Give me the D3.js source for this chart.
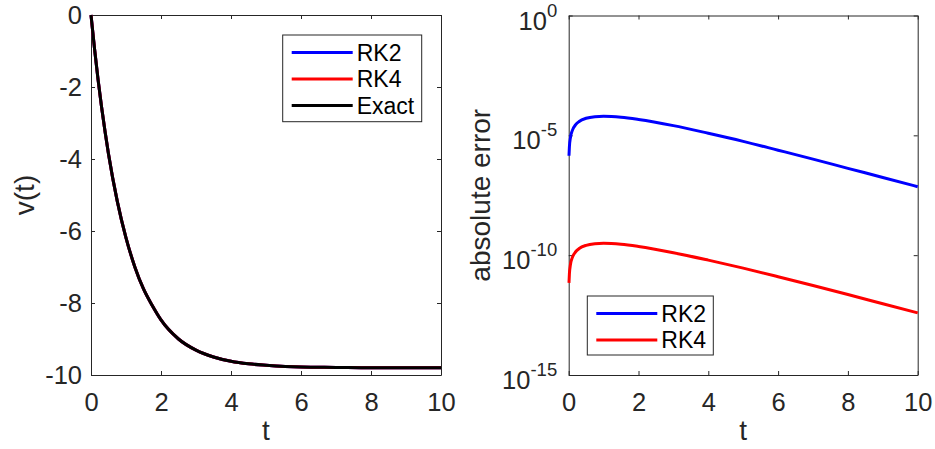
<!DOCTYPE html>
<html lang="en">
<head>
<meta charset="UTF-8">
<script src="https://d3js.org/d3.v7.min.js"></script>
<title>RK2 / RK4 vs exact</title>
<style>
  body { margin: 0; background: #fff; }
  text { font-family: "Liberation Sans", Arial, sans-serif; fill: #262626; }
  .domain, .tick line { stroke: #262626; }
</style>
</head>
<body>
<div id="Area"></div>
<script>
// left panel: velocity (RK2, RK4 and exact lie on top of each other)
const tVel = [0, 0.1, 0.2, 0.3, 0.4, 0.5, 0.75, 1, 1.25, 1.5, 1.75, 2, 2.5, 3, 3.5, 4, 4.5, 5, 6, 7, 8, 9, 10];
const vExact = [0, -0.93, -1.78, -2.54, -3.23, -3.86, -5.17, -6.19, -6.99, -7.61, -8.07, -8.47, -9.00, -9.31, -9.50, -9.62, -9.69, -9.73, -9.78, -9.79, -9.80, -9.80, -9.80];
const vRK2 = [0, -0.93, -1.78, -2.54, -3.23, -3.86, -5.17, -6.19, -6.99, -7.61, -8.07, -8.47, -9.00, -9.31, -9.50, -9.62, -9.69, -9.73, -9.78, -9.79, -9.80, -9.80, -9.80];
const vRK4 = [0, -0.93, -1.78, -2.54, -3.23, -3.86, -5.17, -6.19, -6.99, -7.61, -8.07, -8.47, -9.00, -9.31, -9.50, -9.62, -9.69, -9.73, -9.78, -9.79, -9.80, -9.80, -9.80];

// right panel: absolute error (log scale)
const tErr = [0.008, 0.02, 0.05, 0.1, 0.2, 0.3, 0.5, 0.75, 1, 1.5, 2, 3, 4, 5, 6, 7, 8, 9, 10];
const errRK2 = [1.4e-6, 3.3e-6, 8.1e-6, 1.54e-5, 2.78e-5, 3.78e-5, 5.15e-5, 6.0e-5, 6.25e-5, 5.7e-5, 4.6e-5, 2.54e-5, 1.22e-5, 5.6e-6, 2.4e-6, 1.02e-6, 4.2e-7, 1.75e-7, 7.2e-8];
const errRK4 = [7.0e-12, 1.65e-11, 4.05e-11, 7.7e-11, 1.39e-10, 1.89e-10, 2.58e-10, 3.0e-10, 3.13e-10, 2.85e-10, 2.3e-10, 1.27e-10, 6.2e-11, 2.87e-11, 1.26e-11, 5.4e-12, 2.28e-12, 9.4e-13, 3.9e-13];

const xTicks = [0, 2, 4, 6, 8, 10];
const vTicks = [0, -2, -4, -6, -8, -10];
const errTicks = [1e0, 1e-5, 1e-10, 1e-15];

const W = 935, H = 449;
const tickFont = 25.5, labelFont = 28, legendFont = 23;

const svg = d3.select("#Area").append("svg")
    .attr("width", W).attr("height", H);
svg.append("rect").attr("width", W).attr("height", H).attr("fill", "#fff");

// plain hyphen instead of d3's unicode minus
const plain = d => String(d);

// draws frame with inward ticks on all four sides
function frame(g, x, y, yTicks, w, h) {
  g.append("g").attr("transform", "translate(0," + h + ")")
    .call(d3.axisBottom(x).tickValues(xTicks).tickFormat(plain).tickSizeInner(-4).tickSizeOuter(0).tickPadding(18))
    .call(a => a.selectAll("text").style("font-size", tickFont + "px"));
  g.append("g")
    .call(d3.axisTop(x).tickValues(xTicks).tickSizeInner(-4).tickSizeOuter(0).tickFormat(""));
  g.append("g").attr("transform", "translate(" + w + ",0)")
    .call(d3.axisRight(y).tickValues(yTicks).tickSizeInner(-4).tickSizeOuter(0).tickFormat(""));
  const ya = g.append("g")
    .call(d3.axisLeft(y).tickValues(yTicks).tickFormat(plain).tickSizeInner(-4).tickSizeOuter(0).tickPadding(9));
  ya.selectAll("text").style("font-size", tickFont + "px");
  g.selectAll(".domain").attr("stroke-width", 1);
  g.selectAll(".tick line").attr("stroke-width", 1);
  return ya;
}

function legend(g, x0, y0, bw, bh, items) {
  const lg = g.append("g").attr("transform", "translate(" + x0 + "," + y0 + ")");
  lg.append("rect").attr("width", bw).attr("height", bh)
    .attr("fill", "#fff").attr("stroke", "#262626").attr("stroke-width", 1);
  items.forEach((it, i) => {
    const yy = 17.5 + i * 26.5;
    lg.append("line").attr("x1", 9).attr("x2", 70).attr("y1", yy).attr("y2", yy)
      .attr("stroke", it.color).attr("stroke-width", 3);
    lg.append("text").attr("x", 74).attr("y", yy).attr("dy", "0.36em")
      .style("font-size", legendFont + "px").style("fill", "#000").text(it.name);
  });
}

// ---- left panel
const L = {left: 91, top: 15, w: 350, h: 360};
const gL = svg.append("g").attr("transform", "translate(" + L.left + "," + L.top + ")");
const xL = d3.scaleLinear().domain([0, 10]).range([0, L.w]);
const yL = d3.scaleLinear().domain([-10, 0]).range([L.h, 0]);
frame(gL, xL, yL, vTicks, L.w, L.h);

const lineL = d3.line().x((d, i) => xL(tVel[i])).y(d => yL(d)).curve(d3.curveMonotoneX);
[[vRK2, "#0000ff"], [vRK4, "#ff0000"], [vExact, "#000000"]].forEach(([s, c]) => {
  gL.append("path").datum(s).attr("d", lineL)
    .attr("fill", "none").attr("stroke", c).attr("stroke-width", 3);
});

legend(gL, 282.7 - L.left, 35 - L.top, 139, 86.7, [
  {name: "RK2", color: "#0000ff"}, {name: "RK4", color: "#ff0000"}, {name: "Exact", color: "#000000"}]);

gL.append("text").attr("x", L.w / 2).attr("y", 440 - L.top)
  .attr("text-anchor", "middle").style("font-size", labelFont + "px").text("t");
gL.append("text").attr("transform", "translate(" + (34 - L.left) + "," + (L.h / 2) + ") rotate(-90)")
  .attr("text-anchor", "middle").style("font-size", labelFont + "px").text("v(t)");

// ---- right panel
const R = {left: 568.7, top: 15.5, w: 349, h: 359.5};
const gR = svg.append("g").attr("transform", "translate(" + R.left + "," + R.top + ")");
const xR = d3.scaleLinear().domain([0, 10]).range([0, R.w]);
const yR = d3.scaleLog().domain([1e-15, 1e0]).range([R.h, 0]);
const yaR = frame(gR, xR, yR, errTicks, R.w, R.h);
yaR.selectAll(".tick text").each(function (d) {
  const t = d3.select(this);
  t.text(null).attr("dy", null).attr("x", -11.5).attr("y", 13.5);
  t.append("tspan").text("10");
  t.append("tspan").attr("dy", -13).style("font-size", "18.5px").text(String(Math.round(Math.log10(d))));
});

const lineR = d3.line().x((d, i) => xR(tErr[i])).y(d => yR(d)).curve(d3.curveMonotoneX);
[[errRK2, "#0000ff"], [errRK4, "#ff0000"]].forEach(([s, c]) => {
  gR.append("path").datum(s).attr("d", lineR)
    .attr("fill", "none").attr("stroke", c).attr("stroke-width", 3);
});

legend(gR, 587.3 - R.left, 296 - R.top, 126, 59, [
  {name: "RK2", color: "#0000ff"}, {name: "RK4", color: "#ff0000"}]);

gR.append("text").attr("x", R.w / 2).attr("y", 440 - R.top)
  .attr("text-anchor", "middle").style("font-size", labelFont + "px").text("t");
gR.append("text").attr("transform", "translate(" + (490 - R.left) + "," + (R.h / 2) + ") rotate(-90)")
  .attr("text-anchor", "middle").style("font-size", labelFont + "px").text("absolute error");
</script>
</body>
</html>
